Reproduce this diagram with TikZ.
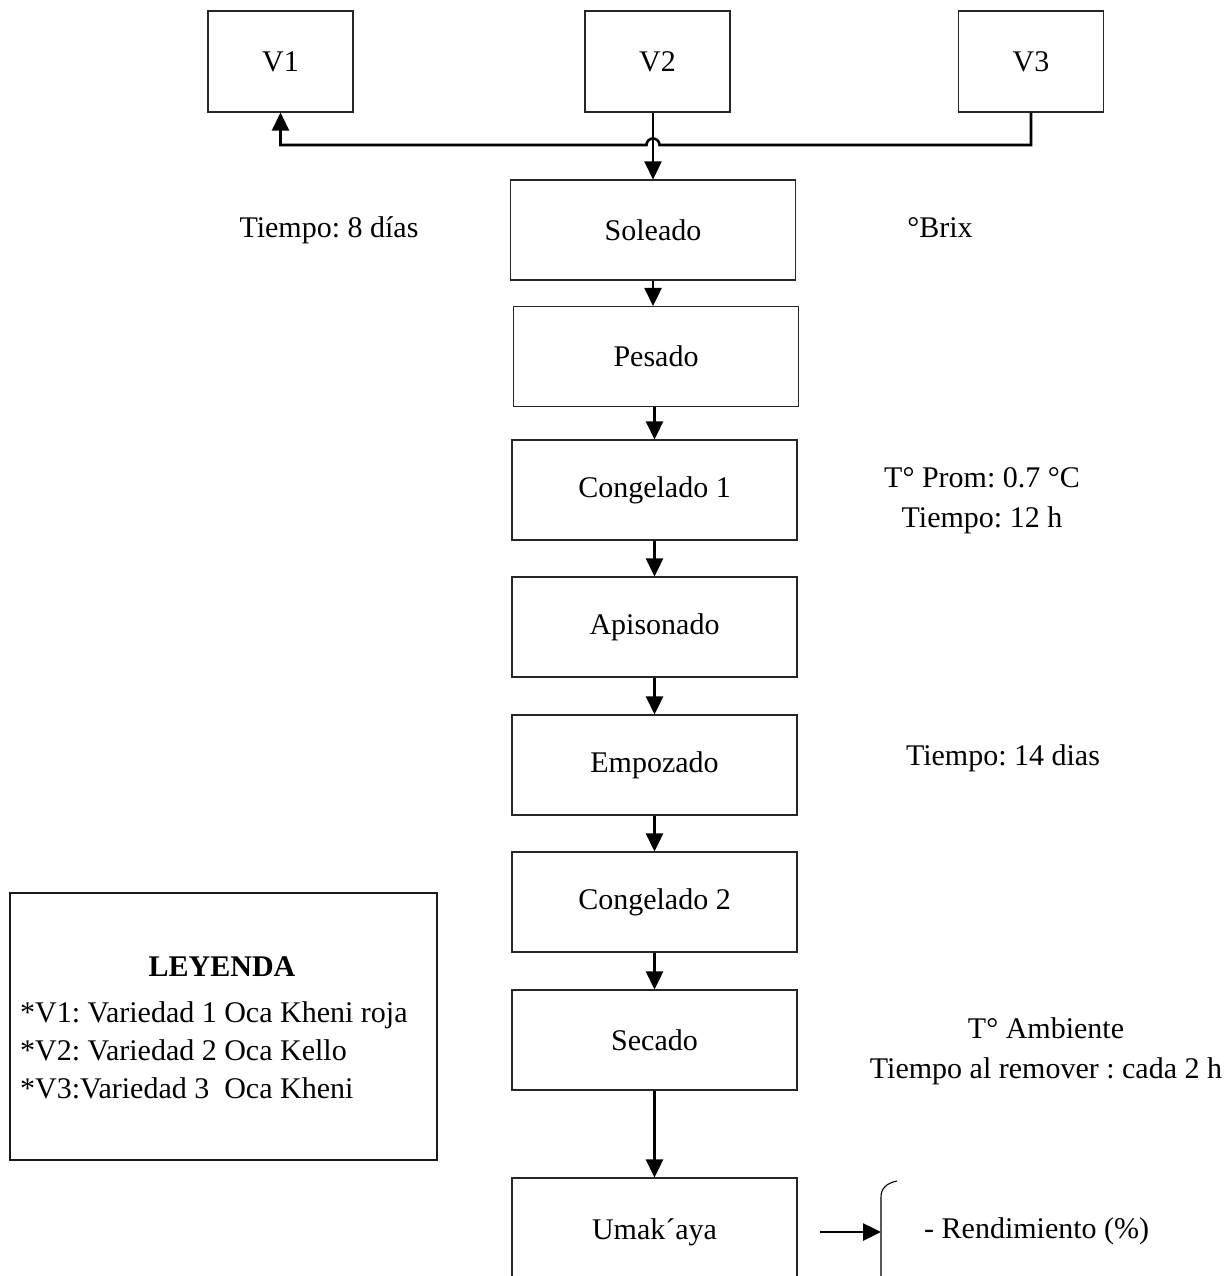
\documentclass[tikz,border=0pt]{standalone}
\usepackage{fontspec}
\setmainfont{Liberation Serif}
\usetikzlibrary{arrows.meta}
\frenchspacing
\begin{document}
\begin{tikzpicture}[x=1pt,y=-1pt,
  txt/.style={font=\fontsize{30}{40}\selectfont, inner sep=0pt},
  vbox/.style={txt, draw=black!85, line width=1.1pt, minimum width=145pt, minimum height=101pt},
  pbox/.style={txt, draw=black!85, line width=1.1pt, minimum width=285pt, minimum height=100pt},
  conn/.style={line width=2.6pt, -{Triangle[length=18pt,width=17pt]}},
  plain/.style={line width=2.6pt}]
\useasboundingbox (0,0) rectangle (1231,1276);
\clip (0,0) rectangle (1231,1276);
\fill[white] (0,0) rectangle (1231,1276);

% top variety boxes
\node[vbox] (V1) at (280.5,61.5) {V1};
\node[vbox] (V2) at (657.5,61.5) {V2};
\node[vbox] (V3) at (1031,61.5) {V3};

% process boxes
\node[pbox] (Sol) at (653,230) {Soleado};
\node[pbox] (Pes) at (656,356.5) {Pesado};
\node[pbox] (Con1) at (654.5,490) {Congelado 1};
\node[pbox] (Api) at (654.5,627) {Apisonado};
\node[pbox] (Emp) at (654.5,765) {Empozado};
\node[pbox] (Con2) at (654.5,902) {Congelado 2};
\node[pbox] (Sec) at (654.5,1040) {Secado};
\node[pbox, minimum height=108pt] (Uma) at (654.5,1232) {Umak´aya};

% side labels
\node[txt] (t8) at (329,230) {Tiempo: 8 días};
\node[txt] (brix) at (940,228) {°Brix};
\node[txt, align=center] (tprom) at (982,501) {T° Prom: 0.7 °C\\Tiempo: 12 h};
\node[txt] (t14) at (1003,758) {Tiempo: 14 dias};
\node[txt, align=center] (tamb) at (1046,1051) {T° Ambiente\\Tiempo al remover : cada 2 h};
\node[txt, anchor=west] (rend) at (924,1231) {- Rendimiento (\%)};

% legend
\node[draw=black!90, line width=1.6pt, minimum width=427pt, minimum height=267pt, inner sep=0pt] (leg) at (223.5,1026.5) {};
\node[txt, font=\fontsize{30}{37}\selectfont\bfseries] (legt) at (222,967) {LEYENDA};
\node[txt, anchor=west, align=left, font=\fontsize{30}{38}\selectfont] (legl) at (20,1050) {*V1:\ Variedad 1\ Oca Kheni roja\\*V2:\ Variedad 2 Oca Kello\\*V3:Variedad 3\ \ Oca Kheni};

% top connectors
\coordinate (hop) at (Sol.north |- 0,145);
\draw[conn] (V3.south) -- (V3.south |- hop) -- ([xshift=6.5pt]hop) arc[start angle=0, end angle=180, radius=6.5pt] -- (V1.south |- hop) -- (V1.south);
\draw[conn] (V2.south -| Sol.north) -- (Sol.north);

% chain
\draw[conn] (Sol.south) -- (Sol.south |- Pes.north);
\draw[conn] (Pes.south -| Con1.north) -- (Con1.north);
\draw[conn] (Con1.south) -- (Api.north);
\draw[conn] (Api.south) -- (Emp.north);
\draw[conn] (Emp.south) -- (Con2.north);
\draw[conn] (Con2.south) -- (Sec.north);
\draw[conn] (Sec.south) -- (Uma.north);

% brace and arrow
\coordinate (br) at (881,1232);
\draw[line width=1.1pt] (897,1181) .. controls (887,1183) and (881,1188) .. (881,1197) -- (881,1290);
\draw[conn] ([xshift=22pt]Uma.east |- br) -- (br);
\end{tikzpicture}
\end{document}
